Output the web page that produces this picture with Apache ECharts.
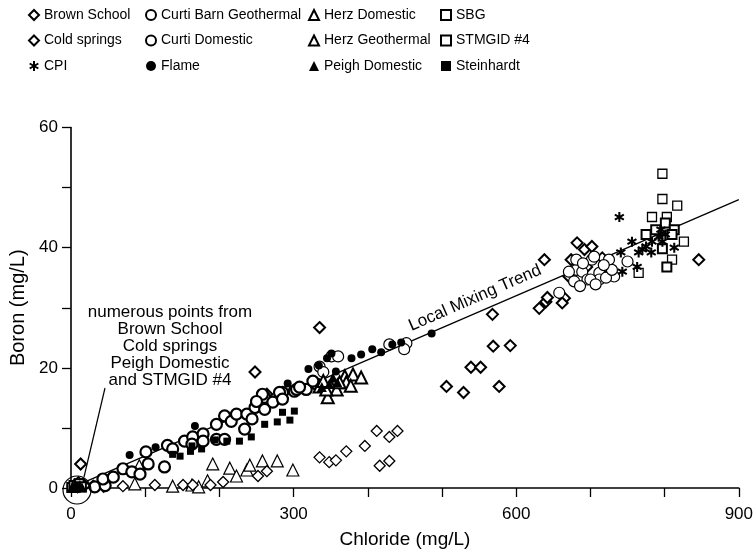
<!DOCTYPE html>
<html>
<head>
<meta charset="utf-8">
<script src="https://cdn.jsdelivr.net/npm/echarts@6/dist/echarts.min.js"></script>
<style>
  html, body { margin: 0; padding: 0; background: #fff; }
  #chart { width: 756px; height: 554px; }
</style>
</head>
<body>
<div id="chart"></div>
<script>
// values: [chloride mg/L, boron mg/L]
var brownSchool = [[3,0.3],[7,0.6],[12,0.2],[16,0.7],[30,0.4],[44,0.2],[70,0.3],[113,0.5],[151,0.5],
  [164,0.5],[188,0.5],[205,1.0],[252,2.0],[264,2.8],[335,5.1],[348,4.3],[357,4.6],[371,6.1],[396,7.0],
  [412,9.5],[429,8.5],[440,9.5],[416,3.7],[429,4.5]];
var coldSprings = [[5,0.5],[9,0.2],[13,4.0],[18,0.4],[10,0.9],[248,19.3],[264,15.6],[335,26.7],[506,16.9],
  [529,15.9],[539,20.1],[552,20.1],[568,28.9],[569,23.6],[592,23.7],[577,16.9],[631,29.9],[640,31],
  [642,31.7],[665,31.6],[662,30.8],[638,38],[682,40.8],[692,39.7],[702,40.2],[674,38],[671,35.2],
  [695,36.8],[716,38.3],[721,36.8],[846,38]];
var cpi = [[739,45.1],[741,39.2],[743,36],[756,41],[763,36.8],[765,39.2],[775,40.2],[783,41],[782,39.2],
  [795,43],[797,41],[813,40],[770,39.7],[792,41.8],[801,42.2]];
var curtiBarn = [[681,36.3],[689,36],[702,38],[712,35.8],[725,38],[732,35.2],[678,34.4],[696,34.7],
  [712,34.7],[721,35],[729,36.3],[681,38],[705,38.5],[671,36],[700,34.7],[658,32.5],[750,37.7],
  [686,33.6],[707,33.9],[690,37.4],[718,37.1],[335,20.2],[351,21.9],[360,21.9],[429,23.9],[452,24.1],
  [449,23.1],[340,19.3]];
var curtiDomestic = [[32,0.2],[46,0.4],[43,1.5],[57,1.8],[70,3.2],[82,2.7],[93,2.3],[104,4.0],[101,6.0],
  [126,3.5],[130,7.1],[137,6.5],[153,7.8],[164,8.5],[178,9.0],[196,10.6],[207,12.0],[216,11.1],
  [223,12.3],[237,12.3],[244,11.5],[248,13.4],[178,7.8],[196,8.1],[207,8.1],[163,7.3],[234,9.8],
  [261,15.1],[261,13.1],[272,14.3],[285,15.9],[301,16.1],[317,16.4],[331,17.3],[258,15.6],[281,15.9],
  [285,14.8],[304,16.4],[326,17.8],[308,16.8],[250,14.4]];
var flame = [[79,5.5],[114,6.8],[167,10.3],[292,17.4],[320,19.8],[334,20.4],[345,21.6],[351,22.4],
  [357,19.4],[378,21.6],[391,22.2],[406,23.1],[418,22.6],[433,23.9],[445,24.2],[486,25.7]];
var herzDomestic = [[86,0.7],[92,3.7],[137,0.3],[163,0.5],[172,0.2],[184,1.2],[191,4.0],[214,3.3],
  [223,2.0],[237,3.0],[241,3.8],[258,4.5],[278,4.5],[299,3.0]];
var herzGeothermal = [[346,15.1],[335,16.9],[351,16.8],[358,16.4],[369,18.6],[380,18.9],[391,18.4],
  [371,17.6],[344,16.4],[362,17.6],[340,17.8],[377,17.0]];
var peighDomestic = [[2,0.3],[6,0.6],[9,0.2],[12,0.5],[15,0.1],[348,17.3],[338,16.8],[359,17.6],[353,18.4]];
var sbg = [[797,52.3],[797,48.1],[817,47],[783,45.1],[803,45.1],[826,41],[810,38],[765,35.8]];
var stmgid4 = [[1,0.1],[4,0.4],[8,0.3],[11,0.7],[14,0.2],[801,44.1],[775,42.2],[788,43],[813,43],
  [810,42.2],[797,39.8],[803,36.8]];
var steinhardt = [[137,5.6],[147,5.3],[161,6.1],[163,7.0],[176,6.5],[194,8.0],[210,7.8],[227,7.8],
  [243,8.5],[261,10.6],[278,11.0],[285,12.6],[295,11.3],[301,12.8]];
var mixingTrend = [[15,0.8],[900,48]];

var xTicks = [0, 300, 600, 900];
var yTicks = [0, 20, 40, 60];

var FONT = '"Liberation Sans", Arial, Helvetica, sans-serif';
var asterisk = 'path://M-1,-5L1,-5L1,5L-1,5Z M3.83,-3.37L4.83,-1.63L-3.83,3.37L-4.83,1.63Z M4.83,1.63L3.83,3.37L-4.83,-1.63L-3.83,-3.37Z';

function hollow(name, data, symbol, size, bw) {
  return {
    name: name, type: 'scatter', data: data, symbol: symbol, symbolSize: size,
    itemStyle: { color: '#fff', borderColor: '#000', borderWidth: bw, opacity: 1 },
    emphasis: { disabled: true }, z: 3
  };
}
function solid(name, data, symbol, size) {
  return {
    name: name, type: 'scatter', data: data, symbol: symbol, symbolSize: size,
    itemStyle: { color: '#000', opacity: 1 },
    emphasis: { disabled: true }, z: 4
  };
}

var chart = echarts.init(document.getElementById('chart'));

var legendBase = {
  orient: 'vertical', top: 7, padding: 0, itemWidth: 10, itemHeight: 10, itemGap: 9.5,
  selectedMode: false,
  textStyle: { fontSize: 14, fontFamily: FONT, color: '#000', lineHeight: 16 }
};

var option = {
  animation: false,
  backgroundColor: '#fff',
  grid: { left: 71, right: 15, top: 127.5, bottom: 65 },
  legend: [
    Object.assign({ left: 28, data: ['Brown School', 'Cold springs', 'CPI'] }, legendBase),
    Object.assign({ left: 145, data: ['Curti Barn Geothermal', 'Curti Domestic', 'Flame'] }, legendBase),
    Object.assign({ left: 308, data: ['Herz Domestic', 'Herz Geothermal', 'Peigh Domestic'] }, legendBase),
    Object.assign({ left: 440, data: ['SBG', 'STMGID #4', 'Steinhardt'] }, legendBase)
  ],
  xAxis: {
    type: 'value', min: 0, max: 900, interval: 100,
    name: 'Chloride (mg/L)', nameLocation: 'middle', nameGap: 42,
    nameTextStyle: { fontSize: 19, fontFamily: FONT, color: '#000' },
    axisLine: { lineStyle: { color: '#000', width: 1.6 } },
    axisTick: { length: 9, lineStyle: { color: '#000', width: 1.3 } },
    axisLabel: {
      fontSize: 17, fontFamily: FONT, color: '#000', margin: 18,
      formatter: function (v) { return xTicks.indexOf(v) >= 0 ? String(v) : ''; }
    },
    splitLine: { show: false }
  },
  yAxis: {
    type: 'value', min: 0, max: 60, interval: 10,
    name: 'Boron (mg/L)', nameLocation: 'middle', nameGap: 43,
    nameTextStyle: { fontSize: 20, fontFamily: FONT, color: '#000' },
    axisLine: { show: true, lineStyle: { color: '#000', width: 1.6 } },
    axisTick: { show: true, length: 9, lineStyle: { color: '#000', width: 1.3 } },
    axisLabel: {
      fontSize: 17, fontFamily: FONT, color: '#000', margin: 13,
      formatter: function (v) { return yTicks.indexOf(v) >= 0 ? String(v) : ''; }
    },
    splitLine: { show: false }
  },
  series: [
    {
      name: 'Local Mixing Trend', type: 'line', data: mixingTrend, symbol: 'none',
      lineStyle: { color: '#000', width: 1.3 }, z: 1, silent: true
    },
    hollow('Herz Domestic', herzDomestic, 'triangle', 12, 1.2),
    hollow('Brown School', brownSchool, 'diamond', 11, 1.3),
    hollow('Cold springs', coldSprings, 'diamond', 11, 2.0),
    hollow('Curti Domestic', curtiDomestic, 'circle', 11, 2.2),
    hollow('Curti Barn Geothermal', curtiBarn, 'circle', 11, 1.2),
    solid('Steinhardt', steinhardt, 'rect', 7),
    solid('Flame', flame, 'circle', 8),
    hollow('Herz Geothermal', herzGeothermal, 'triangle', 12, 2.0),
    solid('Peigh Domestic', peighDomestic, 'triangle', 10),
    hollow('SBG', sbg, 'rect', 9, 1.3),
    hollow('STMGID #4', stmgid4, 'rect', 9, 2.0),
    solid('CPI', cpi, asterisk, 10)
  ],
  graphic: [
    {
      type: 'text', x: 475, y: 298, rotation: 0.413,
      style: {
        text: 'Local Mixing Trend', fontSize: 17, fontFamily: FONT, fill: '#000',
        align: 'center', verticalAlign: 'middle'
      }, z: 10
    },
    {
      type: 'text', x: 170, y: 304,
      style: {
        text: 'numerous points from\nBrown School\nCold springs\nPeigh Domestic\nand STMGID #4',
        fontSize: 17, lineHeight: 17, fontFamily: FONT, fill: '#000', align: 'center'
      }, z: 10
    },
    {
      type: 'circle', shape: { cx: 77, cy: 490, r: 14 },
      style: { fill: 'none', stroke: '#000', lineWidth: 1.2 }, z: 10
    },
    {
      type: 'line', shape: { x1: 84, y1: 477, x2: 105, y2: 388 },
      style: { stroke: '#000', lineWidth: 1.2 }, z: 10
    }
  ]
};

chart.setOption(option);
</script>
</body>
</html>
